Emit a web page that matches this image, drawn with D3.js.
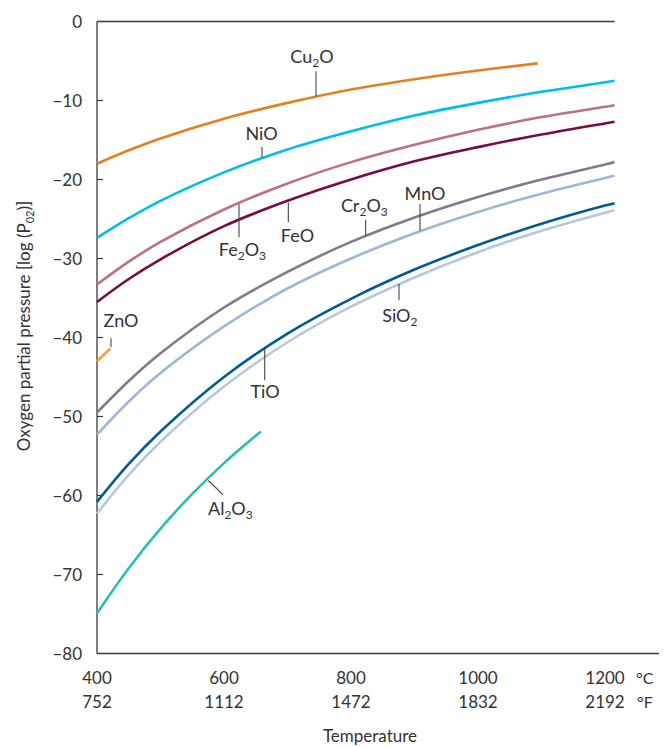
<!DOCTYPE html>
<html><head><meta charset="utf-8">
<script src="https://cdn.jsdelivr.net/npm/d3@7"></script>
<style>
body{margin:0;background:#fff}
text{font-family:Lato,"Open Sans",sans-serif;fill:#333}
</style>
</head><body><svg id="c" width="670" height="747"></svg>
<script>
// ---- data ----
const tempC = [400, 450, 500, 600, 700, 800, 900, 1000, 1100, 1200, 1215];
const NiO   = [-27.4, -24.9, -22.7, -19.1, -16.2, -13.9, -11.9, -10.3, -8.9, -7.7, -7.5];
const Fe2O3 = [-33.3, -30.4, -27.9, -23.8, -20.5, -17.8, -15.6, -13.7, -12.1, -10.8, -10.6];
const FeO   = [-35.5, -32.6, -30.1, -25.9, -22.7, -20.0, -17.7, -15.9, -14.3, -12.9, -12.7];
const Cr2O3 = [-49.5, -45.5, -42.0, -36.2, -31.7, -27.9, -24.8, -22.2, -20.0, -18.1, -17.8];
const MnO   = [-52.3, -48.1, -44.5, -38.6, -33.8, -30.0, -26.8, -24.1, -21.8, -19.8, -19.5];
const TiO   = [-60.8, -56.0, -51.9, -45.0, -39.5, -35.1, -31.4, -28.3, -25.6, -23.3, -23.0];
const SiO2  = [-62.3, -57.4, -53.2, -46.2, -40.6, -36.1, -32.4, -29.2, -26.5, -24.2, -23.9];
const Cu2O_T = [400, 450, 500, 600, 700, 800, 900, 1000, 1094];
const Cu2O   = [-18.0, -16.3, -14.8, -12.3, -10.3, -8.6, -7.3, -6.2, -5.3];
const Al2O3_T = [400, 450, 500, 550, 600, 658];
const Al2O3   = [-74.9, -69.2, -64.2, -59.8, -55.9, -51.9];
const ZnO_T = [400, 421];
const ZnO   = [-43.0, -41.4];

const yTicks = [0, -10, -20, -30, -40, -50, -60, -70, -80];
const yTickLabels = ["0", "−10", "−20", "−30", "−40", "−50", "−60", "−70", "−80"];
const xTicksC = [400, 600, 800, 1000, 1200];
const xTicksF = ["752", "1112", "1472", "1832", "2192"];

// ---- build series ----
const series = [
  {name:"Al2O3", t:Al2O3_T, v:Al2O3, color:"#2dbdb7"},
  {name:"ZnO",   t:ZnO_T,   v:ZnO,   color:"#f6a042"},
  {name:"SiO2",  t:tempC,   v:SiO2,  color:"#b5c8de"},
  {name:"TiO",   t:tempC,   v:TiO,   color:"#005b92"},
  {name:"MnO",   t:tempC,   v:MnO,   color:"#9db7da"},
  {name:"Cr2O3", t:tempC,   v:Cr2O3, color:"#7f7b8f"},
  {name:"FeO",   t:tempC,   v:FeO,   color:"#7b0a44"},
  {name:"Fe2O3", t:tempC,   v:Fe2O3, color:"#b97189"},
  {name:"NiO",   t:tempC,   v:NiO,   color:"#00bdeb"},
  {name:"Cu2O",  t:Cu2O_T,  v:Cu2O,  color:"#e6801f"}
];

const svg = d3.select("#c");
const x = d3.scaleLinear().domain([400, 1200]).range([97, 605]);
const y = d3.scaleLinear().domain([0, -80]).range([21.5, 653.5]);
const axisColor = "#3a3a3a";

// frame
svg.append("line").attr("x1", x(400)).attr("x2", x(1215)).attr("y1", y(0)).attr("y2", y(0))
  .attr("stroke", axisColor).attr("stroke-width", 1.3);
svg.append("line").attr("x1", x(400)).attr("x2", x(400)).attr("y1", y(0)).attr("y2", y(-80))
  .attr("stroke", axisColor).attr("stroke-width", 1.3);
svg.append("line").attr("x1", x(400)).attr("x2", 659).attr("y1", y(-80)).attr("y2", y(-80))
  .attr("stroke", axisColor).attr("stroke-width", 1.3);

// y ticks (inner) and labels
yTicks.forEach((t, i) => {
  if (t !== 0 && t !== -80) {
    svg.append("line").attr("x1", x(400)).attr("x2", x(400) + 6)
      .attr("y1", y(t)).attr("y2", y(t)).attr("stroke", axisColor).attr("stroke-width", 1.2);
  }
  svg.append("text").attr("x", 82).attr("y", y(t)).attr("dy", "0.36em")
    .attr("text-anchor", "end").attr("font-size", 17).text(yTickLabels[i]);
});

// x tick labels (°C / °F)
xTicksC.forEach((t, i) => {
  svg.append("text").attr("x", x(t)).attr("y", 684).attr("text-anchor", "middle")
    .attr("font-size", 17).text(String(t));
  svg.append("text").attr("x", x(t)).attr("y", 708).attr("text-anchor", "middle")
    .attr("font-size", 17).text(xTicksF[i]);
});
svg.append("text").attr("x", 636).attr("y", 684).attr("font-size", 16).text("°C");
svg.append("text").attr("x", 637).attr("y", 708).attr("font-size", 16).text("°F");

// axis titles
svg.append("text").attr("x", 370).attr("y", 742).attr("text-anchor", "middle")
  .attr("font-size", 17).text("Temperature");
const yt = svg.append("text").attr("transform", "translate(30,326) rotate(-90)")
  .attr("text-anchor", "middle").attr("font-size", 17);
yt.append("tspan").text("Oxygen partial pressure [log (P");
yt.append("tspan").attr("font-size", 11).attr("dy", 4).text("02");
yt.append("tspan").attr("dy", -4).text(")]");

// curves
const line = d3.line().x(d => x(d[0])).y(d => y(d[1])).curve(d3.curveCatmullRom.alpha(0.5));
series.forEach(s => {
  svg.append("path").datum(s.t.map((t, i) => [t, s.v[i]]))
    .attr("d", line).attr("fill", "none").attr("stroke", s.color)
    .attr("stroke-width", 2.6).attr("stroke-linecap", "butt");
});

// annotations: label parts, label anchor (T, v), leader from (T1,v1) to (T2,v2)
const notes = [
  {parts:[["Cu",0],["2",1],["O",0]], lt:738.6, lv:-5.25, anchor:"middle", l:[744.9,-6.3,744.9,-9.45]},
  {parts:[["NiO",0]], lt:659, lv:-15.0, anchor:"middle", l:[659.8,-15.9,659.8,-17.2]},
  {parts:[["Fe",0],["2",1],["O",0],["3",1]], lt:629, lv:-29.7, anchor:"middle", l:[623.6,-23.1,623.6,-27.3]},
  {parts:[["FeO",0]], lt:715.7, lv:-27.9, anchor:"middle", l:[701.3,-22.9,701.3,-25.4]},
  {parts:[["Cr",0],["2",1],["O",0],["3",1]], lt:821, lv:-24.1, anchor:"middle", l:[823.1,-25.1,823.1,-27.1]},
  {parts:[["MnO",0]], lt:916.5, lv:-22.6, anchor:"middle", l:[908.7,-23.1,908.7,-26.5]},
  {parts:[["SiO",0],["2",1]], lt:877, lv:-38.0, anchor:"middle", l:[875.6,-33.2,875.6,-35.3]},
  {parts:[["TiO",0]], lt:664.6, lv:-47.7, anchor:"middle", l:[664.1,-41.2,664.1,-45.4]},
  {parts:[["ZnO",0]], lt:437.8, lv:-38.7, anchor:"middle", l:[422,-40.1,422,-41.2]},
  {parts:[["Al",0],["2",1],["O",0],["3",1]], lt:574.8, lv:-62.5, anchor:"start", l:[575.3,-58.1,598.4,-59.9]}
];
notes.forEach(n => {
  svg.append("line").attr("x1", x(n.l[0])).attr("y1", y(n.l[1]))
    .attr("x2", x(n.l[2])).attr("y2", y(n.l[3]))
    .attr("stroke", "#444").attr("stroke-width", 1.1);
  const t = svg.append("text").attr("x", x(n.lt)).attr("y", y(n.lv))
    .attr("text-anchor", n.anchor).attr("font-size", 18);
  let sub = 0;
  n.parts.forEach(p => {
    const ts = t.append("tspan").text(p[0]);
    if (p[1] && !sub) { ts.attr("font-size", 12).attr("dy", 4); sub = 1; }
    else if (!p[1] && sub) { ts.attr("dy", -4); sub = 0; }
    else if (p[1]) ts.attr("font-size", 12);
  });
});
</script></body></html>
